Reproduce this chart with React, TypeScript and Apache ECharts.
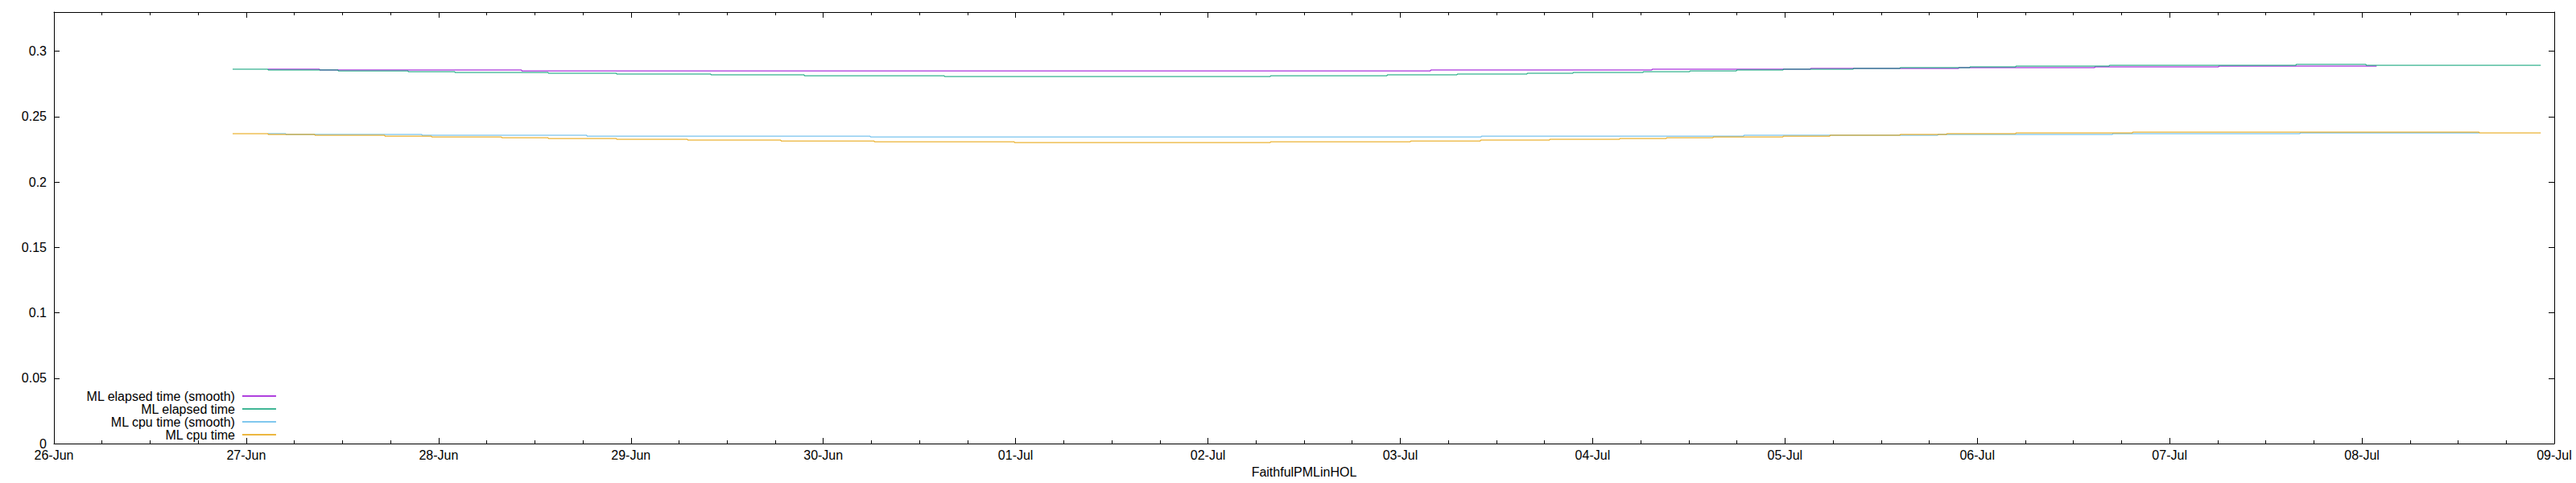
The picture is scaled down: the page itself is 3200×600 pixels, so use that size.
import React, { useEffect, useRef } from "react";
import * as echarts from "echarts";

const YEAR = 2020;
const MONTHS = ["Jan", "Feb", "Mar", "Apr", "May", "Jun", "Jul", "Aug", "Sep", "Oct", "Nov", "Dec"];
const AXIS_START = "06-26 00:00";
const AXIS_END = "07-09 00:00";
const X_TITLE = "FaithfulPMLinHOL";
const Y_TICKS = [0, 0.05, 0.1, 0.15, 0.2, 0.25, 0.3];
const Y_MAX = 0.33;

const SERIES_NAMES = ["ML elapsed time (smooth)", "ML elapsed time", "ML cpu time (smooth)", "ML cpu time"];
const SERIES_COLORS = ["#9400d3", "#009e73", "#56b4e9", "#e69f00"];

const elapsedSmoothTimes = ["06-27 02:43", "06-27 09:09", "06-28 10:22", "07-03 03:47", "07-04 07:25", "07-05 03:12", "07-05 21:41", "07-06 14:40", "07-07 06:08", "07-08 01:50"];
const elapsedSmoothValues = [0.2863, 0.2857, 0.285, 0.2857, 0.2863, 0.2869, 0.2875, 0.2881, 0.2887, 0.2887];

const elapsedTimes = ["06-26 22:18", "06-27 02:43", "06-27 11:28", "06-27 20:12", "06-28 02:02", "06-28 13:41", "06-28 22:12", "06-29 09:59", "06-29 21:38", "06-30 15:07", "07-02 07:48", "07-02 22:22", "07-03 07:06", "07-03 15:50", "07-03 21:34", "07-04 06:19", "07-04 12:08", "07-04 17:58", "07-04 23:47", "07-05 08:32", "07-05 14:22", "07-05 23:05", "07-06 04:49", "07-06 16:29", "07-07 15:47", "07-08 00:31", "07-08 22:19"];
const elapsedValues = [0.2863, 0.2857, 0.285, 0.2844, 0.2838, 0.2832, 0.2826, 0.282, 0.2813, 0.2807, 0.2813, 0.282, 0.2826, 0.2832, 0.2838, 0.2844, 0.285, 0.2857, 0.2863, 0.2869, 0.2875, 0.2881, 0.2887, 0.2893, 0.29, 0.2893, 0.2893];

const cpuSmoothTimes = ["06-27 02:43", "06-27 04:56", "06-27 21:55", "06-28 18:30", "06-30 05:52", "07-03 10:07", "07-04 18:52", "07-05 19:05", "07-06 16:53", "07-07 16:17", "07-08 14:38"];
const cpuSmoothValues = [0.237, 0.2364, 0.2358, 0.2351, 0.2345, 0.2351, 0.2358, 0.2364, 0.237, 0.2376, 0.2376];

const cpuTimes = ["06-26 22:18", "06-27 02:43", "06-27 08:33", "06-27 17:17", "06-27 23:07", "06-28 07:52", "06-28 13:41", "06-28 22:12", "06-29 07:04", "06-29 18:43", "06-30 06:22", "06-30 23:51", "07-02 07:48", "07-03 01:17", "07-03 10:01", "07-03 18:39", "07-04 03:23", "07-04 09:13", "07-04 15:03", "07-04 23:47", "07-05 05:37", "07-05 14:22", "07-05 20:11", "07-06 04:49", "07-06 19:23", "07-08 14:38", "07-08 22:19"];
const cpuValues = [0.237, 0.2364, 0.2358, 0.2351, 0.2345, 0.2339, 0.2333, 0.2327, 0.2321, 0.2314, 0.2308, 0.2302, 0.2308, 0.2314, 0.2321, 0.2327, 0.2333, 0.2339, 0.2345, 0.2351, 0.2358, 0.2364, 0.237, 0.2376, 0.2382, 0.2376, 0.2376];

const FONT = "'Liberation Sans', Arial, Helvetica, sans-serif";

function toMs(t: string): number {
  const [md, hm] = t.split(" ");
  const [mo, d] = md.split("-").map(Number);
  const [h, m] = hm.split(":").map(Number);
  return Date.UTC(YEAR, mo - 1, d, h, m);
}
const BASE = toMs(AXIS_START);
const toHours = (t: string) => (toMs(t) - BASE) / 3600000;
const X_MAX = toHours(AXIS_END);

function pairs(times: string[], values: number[]) {
  return times.map((t, i) => [toHours(t), values[i]]);
}

function dayLabel(h: number): string {
  const d = new Date(BASE + h * 3600000);
  const dd = String(d.getUTCDate()).padStart(2, "0");
  return `${dd}-${MONTHS[d.getUTCMonth()]}`;
}

export default function App() {
  const ref = useRef<HTMLDivElement>(null);
  useEffect(() => {
    const chart = echarts.init(ref.current!, null, { renderer: "svg" });
    const black = { color: "#000", width: 1 };
    const xBase = {
      type: "value" as const,
      min: 0,
      max: X_MAX,
      interval: 24,
      axisLine: { show: true, onZero: false, lineStyle: black },
      axisTick: { show: true, inside: true, length: 7, lineStyle: black },
      minorTick: { show: true, splitNumber: 4, length: 4, lineStyle: black },
      splitLine: { show: false },
      minorSplitLine: { show: false },
    };
    const yBase = {
      type: "value" as const,
      min: 0,
      max: Y_MAX,
      interval: 0.05,
      axisLine: { show: true, onZero: false, lineStyle: black },
      axisTick: { show: true, inside: true, length: 7, lineStyle: black },
      splitLine: { show: false },
    };
    const datasets = [
      pairs(elapsedSmoothTimes, elapsedSmoothValues),
      pairs(elapsedTimes, elapsedValues),
      pairs(cpuSmoothTimes, cpuSmoothValues),
      pairs(cpuTimes, cpuValues),
    ];
    chart.setOption({
      animation: false,
      backgroundColor: "#fff",
      grid: { left: 67, right: 27, top: 15, bottom: 49, containLabel: false },
      legend: {
        orient: "vertical",
        align: "right",
        left: 107,
        top: 484,
        padding: 0,
        itemGap: 0,
        itemWidth: 42,
        itemHeight: 1.5,
        icon: "rect",
        selectedMode: false,
        data: SERIES_NAMES,
        textStyle: { color: "#000", fontSize: 16, lineHeight: 15, fontFamily: FONT, padding: [0, 4, 0, 0] },
      },
      xAxis: [
        {
          ...xBase,
          position: "bottom",
          axisLabel: {
            show: true,
            color: "#000",
            fontSize: 16,
            fontFamily: FONT,
            margin: 6,
            showMinLabel: true,
            showMaxLabel: true,
            formatter: (v: number) => dayLabel(v),
          },
          name: X_TITLE,
          nameLocation: "middle",
          nameGap: 27,
          nameTextStyle: { color: "#000", fontSize: 16, fontFamily: FONT },
        },
        { ...xBase, position: "top", axisLabel: { show: false } },
      ],
      yAxis: [
        {
          ...yBase,
          position: "left",
          axisLabel: {
            show: true,
            color: "#000",
            fontSize: 16,
            fontFamily: FONT,
            margin: 9,
            showMaxLabel: false,
            formatter: (v: number) => (Y_TICKS.some((t) => Math.abs(t - v) < 1e-9) ? String(Number(v.toFixed(2))) : ""),
          },
        },
        { ...yBase, position: "right", axisLabel: { show: false } },
      ],
      series: SERIES_NAMES.map((name, i) => ({
        name,
        type: "line",
        step: "end",
        xAxisIndex: 0,
        yAxisIndex: 0,
        showSymbol: false,
        symbol: "none",
        color: SERIES_COLORS[i],
        itemStyle: { color: SERIES_COLORS[i] },
        lineStyle: { color: SERIES_COLORS[i], width: 1 },
        data: datasets[i],
      })),
    });
    return () => chart.dispose();
  }, []);
  return <div ref={ref} style={{ position: "absolute", left: 0, top: 0, width: 3200, height: 600 }} />;
}
